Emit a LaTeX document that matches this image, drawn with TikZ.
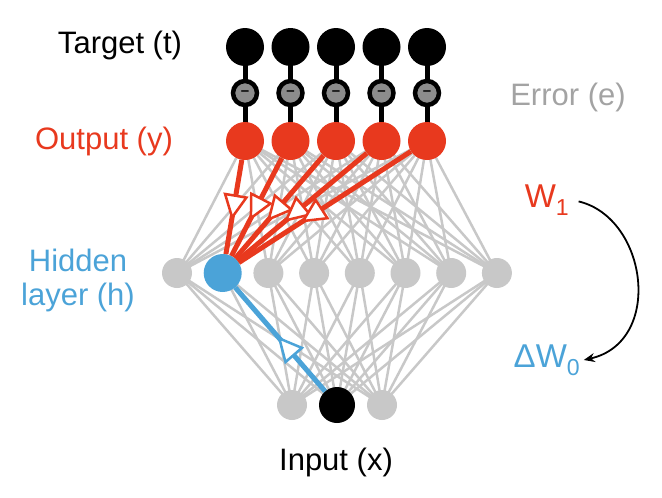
\documentclass[tikz,border=0pt]{standalone}
\usepackage{fontspec}
\setmainfont{Liberation Sans}
\usetikzlibrary{arrows.meta, decorations.markings, backgrounds}

\definecolor{outred}{HTML}{E8391E}
\definecolor{hidblue}{HTML}{4BA3D8}
\definecolor{netgray}{HTML}{C8C8C8}
\definecolor{errgray}{HTML}{A3A3A3}
\definecolor{errfill}{HTML}{8C8C8C}

\begin{document}
\begin{tikzpicture}[x=1pt, y=-1pt,
	unit/.style={circle, inner sep=0pt, minimum size=30pt, fill=netgray},
	bigunit/.style={circle, inner sep=0pt, minimum size=38pt},
	errunit/.style={circle, inner sep=0pt, minimum size=24pt, fill=errfill,
		draw=black, line width=4.5pt, font=\fontsize{15}{15}\selectfont\bfseries},
	link/.style={netgray, line width=2.5pt},
	stem/.style={black, line width=5pt},
	lbl/.style={font=\fontsize{31}{34}\selectfont, align=center},
	backred/.style={outred, line width=5pt, postaction={decorate},
		decoration={markings, mark=at position 0.64 with
			{\arrow{Triangle[fill=white, line width=2.5pt, length=26pt, width=25pt]}}}},
	backblue/.style={hidblue, line width=5pt, postaction={decorate},
		decoration={markings, mark=at position 0.53 with
			{\arrow{Triangle[fill=white, line width=2.5pt, length=26pt, width=25pt]}}}}]

	\useasboundingbox (0,0) rectangle (662,498);

	% target, error and output units
	\foreach \i in {1,...,5} {
		\node[bigunit, fill=black] (t\i) at ({245+45.5*(\i-1)}, 47) {};
		\node[errunit] (e\i) at ({245+45.5*(\i-1)}, 93) {--};
		\node[bigunit, fill=outred] (y\i) at ({245+45.5*(\i-1)}, 141) {};
	}

	% hidden units
	\foreach \j in {1,...,8} {
		\node[unit] (h\j) at ({177+45.7*(\j-1)}, 273) {};
	}
	\node[bigunit, fill=hidblue] (h2) at (222.7, 273) {};

	% input units
	\node[unit] (x1) at (292, 405) {};
	\node[bigunit, minimum size=36pt, fill=black] (x2) at (337, 405) {};
	\node[unit] (x3) at (382, 405) {};

	\begin{scope}[on background layer]
		\foreach \i in {1,...,5} {
			\draw[stem] (t\i.center) -- (e\i.center) -- (y\i.center);
			\foreach \j in {1,...,8}
				\draw[link] (y\i.center) -- (h\j.center);
		}
		\foreach \j in {1,...,8}
			\foreach \k in {1,2,3}
				\draw[link] (h\j.center) -- (x\k.center);
	\end{scope}

	% backward pass
	\foreach \i in {1,...,5}
		\draw[backred] (y\i) -- (h2);
	\draw[backblue] (x2) -- (h2);

	% labels
	\node[lbl] (target) at (120, 45) {Target (t)};
	\node[lbl, text=outred] (output) at (104, 141) {Output (y)};
	\node[lbl, text=hidblue] (hidden) at (78, 280) {Hidden\\layer (h)};
	\node[lbl, text=errgray] (error) at (568, 97) {Error (e)};
	\node[lbl] (input) at (336, 462) {Input (x)};
	\node[lbl, text=outred, font=\fontsize{33}{34}\selectfont] (w1) at (547, 200) {W\textsubscript{1}};
	\node[lbl, text=hidblue, font=\fontsize{33}{34}\selectfont] (dw0) at (547, 360) {ΔW\textsubscript{0}};

	\draw[-{Stealth[length=11pt, width=9pt]}, line width=1.8pt, shorten <=6pt]
		(w1.east) .. controls +(75,18) and +(80,-18) .. (dw0.east);

\end{tikzpicture}
\end{document}
